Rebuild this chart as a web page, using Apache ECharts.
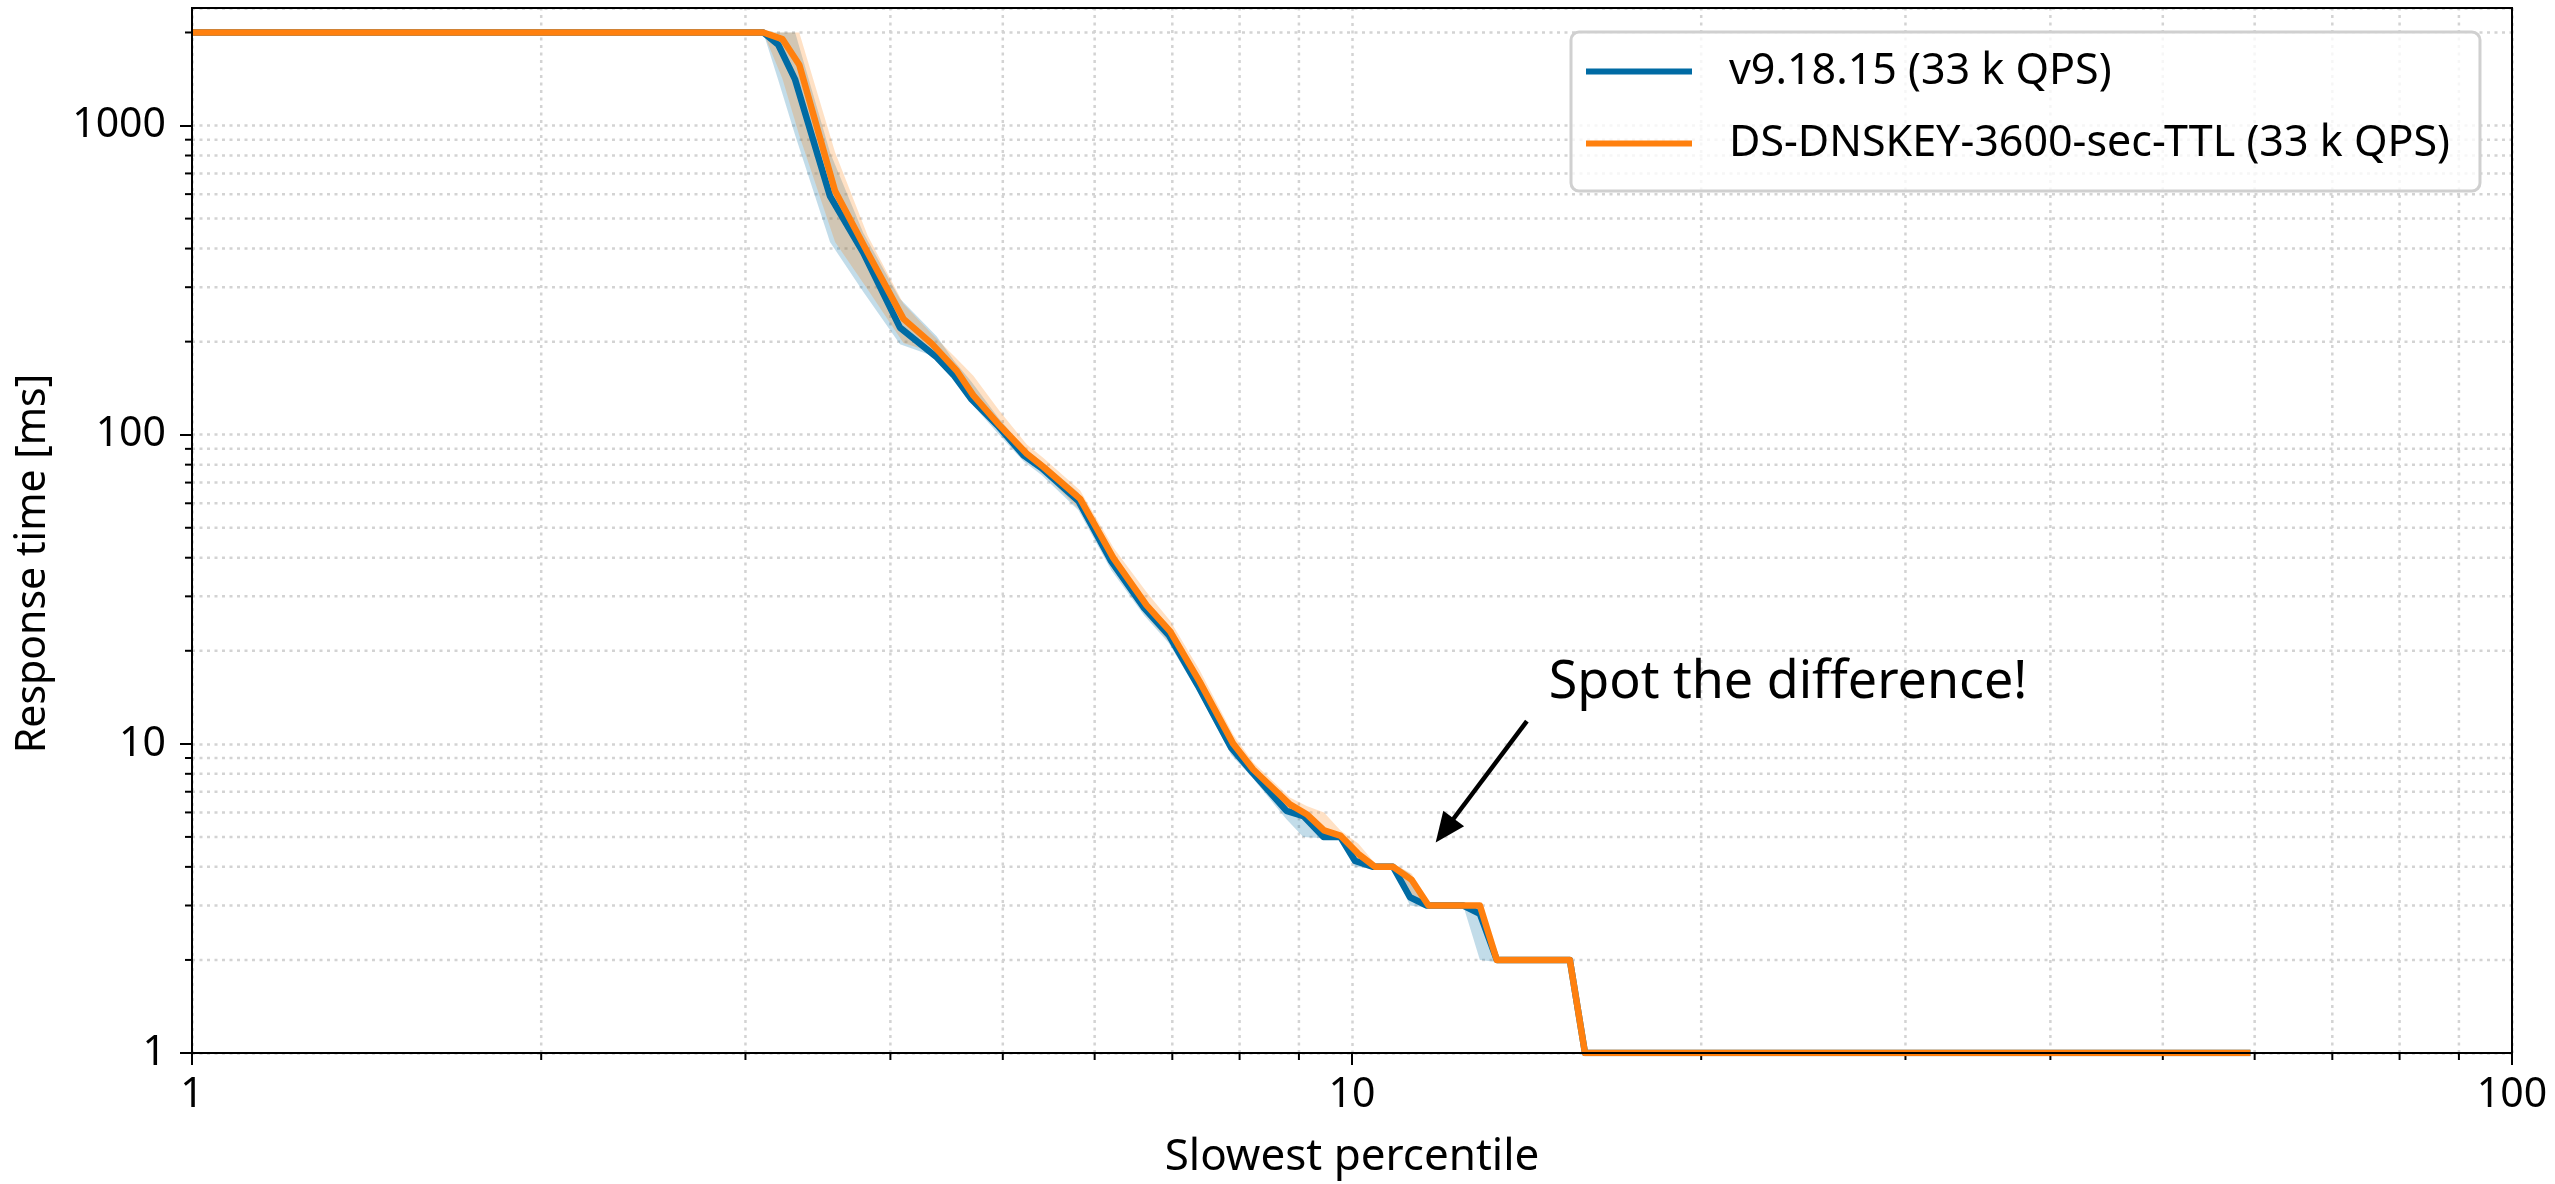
<!DOCTYPE html>
<html>
<head>
<meta charset="utf-8">
<title>Response time percentiles</title>
<script src="https://cdn.jsdelivr.net/npm/echarts@6/dist/echarts.min.js"></script>
<style>
  html, body { margin: 0; padding: 0; background: #fff; }
  #chart { width: 2555px; height: 1184px; }
</style>
</head>
<body>
<div id="chart"></div>
<script>
// axis limits
var X_MIN = 1, X_MAX = 100;
var Y_MIN = 1, Y_MAX = 2400;

var xMinorTicks = [2, 3, 4, 5, 6, 7, 8, 9, 20, 30, 40, 50, 60, 70, 80, 90];
var yMinorTicks = [2, 3, 4, 5, 6, 7, 8, 9, 20, 30, 40, 50, 60, 70, 80, 90,
                   200, 300, 400, 500, 600, 700, 800, 900, 2000];

// v9.18.15
var blueName = 'v9.18.15 (33 k QPS)';
var blueX  = [1, 3.108, 3.202, 3.311, 3.548, 3.79, 4.077, 4.385, 4.54, 4.70,
              4.95, 5.21, 5.40, 5.81, 6.20, 6.62, 6.95, 7.36, 7.87, 8.20,
              8.78, 9.08, 9.45, 9.77, 10.06, 10.43, 10.85, 11.22, 11.6, 12.47,
              12.89, 13.33, 15.41, 15.88, 59.5];
var blueY  = [2000, 2000, 1825, 1407, 591, 388, 222, 178, 155, 130,
              107, 85.8, 78, 61, 39, 27.5, 22.5, 15.5, 9.7, 8.1,
              6.07, 5.84, 5, 5, 4.18, 4, 4, 3.19, 3, 3,
              2.82, 2, 2, 1, 1];
var blueLo = [2000, 2000, 1400, 930, 420, 290, 196, 178, 152, 126,
              101, 82, 74, 57, 36.5, 26, 21.2, 14.8, 9.2, 7.8,
              5.7, 5.0, 4.95, 4.9, 4.0, 3.95, 3.95, 3.0, 2.95, 3.0,
              2.0, 1.97, 1.97, 1, 1];
var blueHi = [2000, 2000, 2000, 2000, 820, 450, 275, 208, 173, 148,
              114, 91, 82, 65, 41.5, 29.5, 24.2, 16.8, 10.4, 8.6,
              6.4, 6.0, 5.3, 5.1, 4.6, 4.1, 4.1, 3.8, 3.05, 3.05,
              3.0, 2.03, 2.03, 1, 1];

// DS-DNSKEY-3600-sec-TTL
var orangeName = 'DS-DNSKEY-3600-sec-TTL (33 k QPS)';
var orangeX  = [1, 3.108, 3.228, 3.338, 3.584, 3.824, 4.105, 4.342, 4.563, 4.716,
                4.97, 5.244, 5.42, 5.83, 6.23, 6.65, 6.97, 7.39, 7.9, 8.22,
                8.84, 9.14, 9.46, 9.77, 10.13, 10.47, 10.85, 11.26, 11.64, 12.89,
                13.33, 15.41, 15.88, 59.5];
var orangeY  = [2000, 2000, 1904, 1573, 614, 388, 237, 197, 161, 134,
                107, 86.8, 78.6, 62, 39.8, 28.1, 23.1, 15.9, 10, 8.26,
                6.37, 5.92, 5.25, 5.05, 4.4, 4, 4, 3.63, 3, 3,
                2, 2, 1, 1];
var orangeLo = [2000, 2000, 1420, 930, 420, 295, 198, 185, 156, 129,
                102, 83, 75, 57, 36.5, 26, 21.2, 14.8, 9.3, 7.8,
                6.0, 5.6, 5.0, 4.9, 4.1, 3.95, 3.95, 3.2, 2.95, 2.95,
                1.97, 1.97, 1, 1];
var orangeHi = [2000, 2000, 2000, 2000, 820, 440, 265, 212, 176, 155,
                119, 93, 84, 66, 43, 31, 25, 17.3, 10.7, 8.7,
                6.7, 6.3, 6.0, 5.25, 4.75, 4.1, 4.1, 3.8, 3.05, 3.05,
                2.03, 2.03, 1, 1];

// annotation
var noteText = 'Spot the difference!';
var notePos = [14.76, 15.7];
var arrowFrom = [14.15, 11.84];
var arrowTo = [12.02, 5.245];

var FONT = 'Noto Sans';
var gridDot = { color: '#d3d3d3', width: 2.5, type: [3, 4.5] };

function zip(xs, ys) {
    return xs.map(function (x, i) { return [x, ys[i]]; });
}

function bandSeries(name, xs, lo, hi, fill) {
    return {
        name: name,
        type: 'custom',
        z: 2,
        silent: true,
        clip: true,
        data: xs.map(function (x, i) { return [x, lo[i], hi[i]]; }),
        encode: { x: 0, y: [1, 2] },
        renderItem: function (params, api) {
            if (params.dataIndex !== 0) return null;
            var pts = [];
            for (var i = 0; i < xs.length; i++) pts.push(api.coord([xs[i], hi[i]]));
            for (var j = xs.length - 1; j >= 0; j--) pts.push(api.coord([xs[j], lo[j]]));
            return { type: 'polygon', shape: { points: pts }, style: { fill: fill } };
        }
    };
}

function minorGrid(dim, values) {
    return {
        type: 'custom',
        z: 1,
        silent: true,
        clip: false,
        data: values.map(function (v) { return dim === 'x' ? [v, Y_MIN] : [X_MIN, v]; }),
        renderItem: function (params, api) {
            var v = api.value(dim === 'x' ? 0 : 1);
            var a, b, t;
            if (dim === 'x') {
                a = api.coord([v, Y_MIN]); b = api.coord([v, Y_MAX]);
                t = [a[0], a[1] + 7];
            } else {
                a = api.coord([X_MIN, v]); b = api.coord([X_MAX, v]);
                t = [a[0] - 7, a[1]];
            }
            return {
                type: 'group',
                children: [
                    { type: 'line', shape: { x1: a[0], y1: a[1], x2: b[0], y2: b[1] },
                      style: { stroke: gridDot.color, lineWidth: gridDot.width, lineDash: gridDot.type } },
                    { type: 'line', shape: { x1: a[0], y1: a[1], x2: t[0], y2: t[1] },
                      style: { stroke: '#000', lineWidth: 2 } }
                ]
            };
        }
    };
}

var chart = echarts.init(document.getElementById('chart'));

var option = {
    animation: false,
    textStyle: { fontFamily: FONT },
    grid: {
        left: 192, right: 43, top: 8, bottom: 128,
        show: true, z: 10,
        borderColor: '#000', borderWidth: 2,
        backgroundColor: 'transparent'
    },
    legend: {
        data: [blueName, orangeName],
        orient: 'vertical',
        left: 1571, top: 32,
        padding: [18, 30, 26, 15],
        itemGap: 29,
        itemWidth: 106, itemHeight: 6,
        icon: 'rect',
        backgroundColor: 'rgba(255,255,255,0.8)',
        borderColor: '#d0d0d0', borderWidth: 3, borderRadius: 8,
        selectedMode: false,
        textStyle: { fontFamily: FONT, fontSize: 43, color: '#000', lineHeight: 40, padding: [0, 0, 0, 32] }
    },
    xAxis: {
        type: 'log', logBase: 10, min: X_MIN, max: X_MAX,
        name: 'Slowest percentile', nameLocation: 'middle', nameGap: 82,
        nameTextStyle: { fontFamily: FONT, fontSize: 44, color: '#000' },
        axisLine: { show: false },
        axisTick: { length: 12, lineStyle: { color: '#000', width: 2 } },
        axisLabel: { fontFamily: FONT, fontSize: 41, color: '#000', margin: 22,
                     formatter: function (v) { return String(Math.round(v)); } },
        splitLine: { show: true, lineStyle: gridDot }
    },
    yAxis: {
        type: 'log', logBase: 10, min: Y_MIN, max: Y_MAX,
        name: 'Response time [ms]', nameLocation: 'middle', nameGap: 138, nameRotate: 90,
        nameTextStyle: { fontFamily: FONT, fontSize: 41, color: '#000', padding: [0, 66, 0, 0] },
        axisLine: { show: false },
        axisTick: { length: 12, lineStyle: { color: '#000', width: 2 } },
        axisLabel: { fontFamily: FONT, fontSize: 41, color: '#000', margin: 26, showMaxLabel: false,
                     formatter: function (v) { return String(Math.round(v)); } },
        splitLine: { show: true, lineStyle: gridDot }
    },
    series: [
        minorGrid('x', xMinorTicks),
        minorGrid('y', yMinorTicks),
        bandSeries('blueBand', blueX, blueLo, blueHi, 'rgba(0,107,164,0.24)'),
        bandSeries('orangeBand', orangeX, orangeLo, orangeHi, 'rgba(255,128,14,0.24)'),
        {
            name: blueName, type: 'line', z: 3,
            data: zip(blueX, blueY),
            showSymbol: false, symbol: 'none',
            lineStyle: { color: '#006BA4', width: 6.5, join: 'round' },
            itemStyle: { color: '#006BA4' },
            emphasis: { disabled: true }
        },
        {
            name: orangeName, type: 'line', z: 4,
            data: zip(orangeX, orangeY),
            showSymbol: false, symbol: 'none',
            lineStyle: { color: '#FF800E', width: 6.5, join: 'round' },
            itemStyle: { color: '#FF800E' },
            emphasis: { disabled: true }
        },
        {
            name: 'note', type: 'scatter', z: 5, silent: true,
            data: [notePos],
            symbolSize: 1,
            itemStyle: { color: 'rgba(0,0,0,0)' },
            label: {
                show: true, position: 'right', distance: 0,
                formatter: noteText, opacity: 1,
                fontFamily: FONT, fontSize: 52, color: '#000', textBorderWidth: 0
            },
            markLine: {
                silent: true, animation: false,
                label: { show: false },
                lineStyle: { color: '#000', width: 4.5, type: 'solid', opacity: 1 },
                data: [[
                    { coord: arrowFrom, symbol: 'none' },
                    { coord: arrowTo, symbol: 'triangle', symbolSize: [26, 30] }
                ]]
            }
        }
    ]
};

chart.setOption(option);
</script>
</body>
</html>
